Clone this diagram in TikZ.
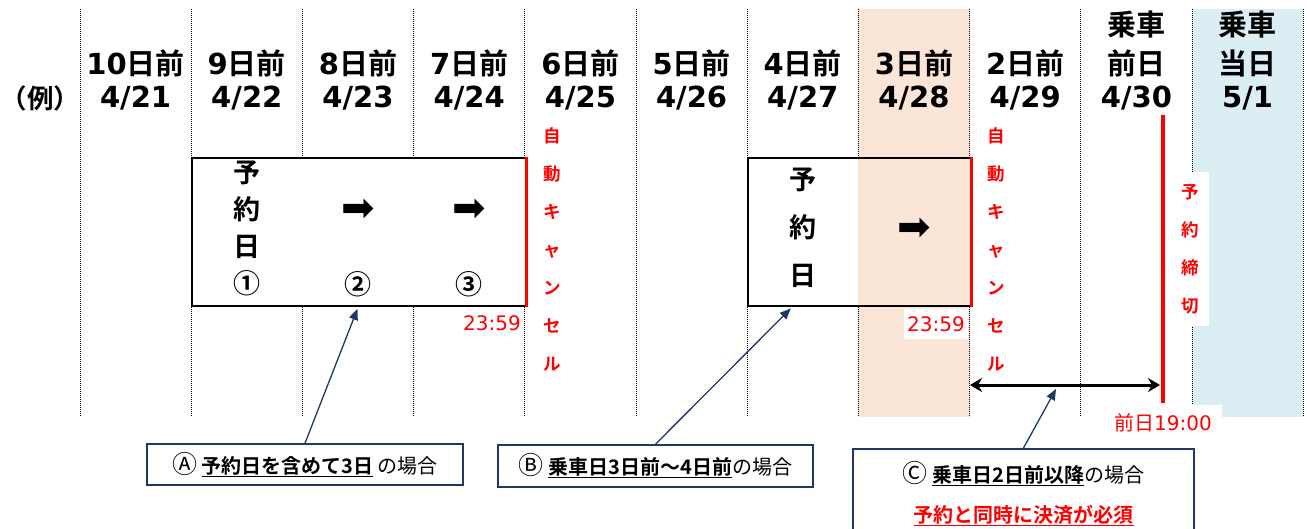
\documentclass[tikz,border=0pt]{standalone}
\usepackage{fontspec}
\setmainfont{Noto Sans CJK JP}[BoldFont={Noto Sans CJK JP Bold}]
\newfontfamily\vd{DejaVu Sans}
\usetikzlibrary{arrows.meta}
\definecolor{pe}{HTML}{FBE5D6}
\definecolor{lb}{HTML}{DAEEF3}
\definecolor{nv}{HTML}{1F3864}
\definecolor{rd}{HTML}{FF0000}
\newcommand\ulx[1]{\leavevmode\setbox0=\hbox{#1}\rlap{\rule[-3.5pt]{\wd0}{1.3pt}}\box0\relax}
\newcommand\circl[1]{{\fontsize{25}{40}\selectfont #1}}
\tikzset{
  hd/.style={inner sep=0pt, font=\bfseries\fontsize{29}{32}\selectfont},
  dotl/.style={line width=0.9pt, dash pattern=on 1pt off 1pt},
  daybox/.style={draw=black, line width=2pt, inner sep=0pt, anchor=north west},
  redv/.style={text=rd, inner sep=0pt, align=center, font=\bfseries\fontsize{17.5}{38}\selectfont},
  boxt/.style={inner sep=0pt, align=center},
  tm/.style={text=rd, inner sep=1pt, font=\vd\fontsize{20}{24}\selectfont},
  calbox/.style={draw=nv, line width=1.6pt, fill=white, inner sep=0pt, font=\fontsize{20}{40}\selectfont, align=center},
  callarr/.style={draw=nv, line width=1.3pt, -{Triangle[length=11pt,width=9pt]}, shorten >=2pt},
  dblarr/.style={draw=black, line width=3pt, {Stealth[length=12pt,width=14pt]}-{Stealth[length=12pt,width=14pt]}},
  redl/.style={draw=rd, line width=3pt}
}
\begin{document}
\begin{tikzpicture}[x=1pt,y=-1pt]
\useasboundingbox (0,0) rectangle (1307,528);
\clip (0,0) rectangle (1307,528);
% shaded columns
\fill[pe] (858.4,9) rectangle (969.6,417);
\fill[lb] (1192,9) rectangle (1303.2,417);
% dotted dividers
\foreach \i in {0,...,11} \draw[dotl] ({80+111.2*\i},9) -- ({80+111.2*\i},417);
% headers
\node[hd, font=\bfseries\fontsize{26.5}{30}\selectfont] (ex) at (40.5,98) {（例）};
\node[hd] (d0) at (135.6,63) {{\vd 10}日前};
\node[hd] (t0) at (135.6,98) {\vd 4/21};
\node[hd] (d1) at (246.8,63) {{\vd 9}日前};
\node[hd] (t1) at (246.8,98) {\vd 4/22};
\node[hd] (d2) at (358.0,63) {{\vd 8}日前};
\node[hd] (t2) at (358.0,98) {\vd 4/23};
\node[hd] (d3) at (469.2,63) {{\vd 7}日前};
\node[hd] (t3) at (469.2,98) {\vd 4/24};
\node[hd] (d4) at (580.4,63) {{\vd 6}日前};
\node[hd] (t4) at (580.4,98) {\vd 4/25};
\node[hd] (d5) at (691.6,63) {{\vd 5}日前};
\node[hd] (t5) at (691.6,98) {\vd 4/26};
\node[hd] (d6) at (802.8,63) {{\vd 4}日前};
\node[hd] (t6) at (802.8,98) {\vd 4/27};
\node[hd] (d7) at (914.0,63) {{\vd 3}日前};
\node[hd] (t7) at (914.0,98) {\vd 4/28};
\node[hd] (d8) at (1025.2,63) {{\vd 2}日前};
\node[hd] (t8) at (1025.2,98) {\vd 4/29};
\node[hd] (r9) at (1136.4,25) {乗車};
\node[hd] (d9) at (1136.4,63) {前日};
\node[hd] (t9) at (1136.4,98) {\vd 4/30};
\node[hd] (r10) at (1247.6,25) {乗車};
\node[hd] (d10) at (1247.6,63) {当日};
\node[hd] (t10) at (1247.6,98) {\vd 5/1};
% box A
\node[daybox, fill=white, minimum width=333.6pt, minimum height=148pt] (boxA) at (191.2,157) {};
\draw[redl] (boxA.north east) -- (boxA.south east);
\node[boxt, font=\bfseries\fontsize{27}{37}\selectfont] (ya) at (246.8,228) {予\\約\\日\\①};
\node[boxt, font=\vd\fontsize{40}{40}\selectfont] (ar2) at (358,210) {➡};
\node[boxt, font=\vd\fontsize{40}{40}\selectfont] (ar3) at (469.2,210) {➡};
\node[boxt, font=\bfseries\fontsize{27}{37}\selectfont] (n2) at (358,284) {②};
\node[boxt, font=\bfseries\fontsize{27}{37}\selectfont] (n3) at (469.2,284) {③};
\node[tm, anchor=east] (tmA) at (522,323) {23:59};
\node[redv] (acA) at (552,249) {自\\動\\キ\\ャ\\ン\\セ\\ル};
% box B
\fill[white] (747.2,157) rectangle (858.4,305);
\fill[pe] (858.4,157) rectangle (969.6,305);
\node[daybox, minimum width=222.4pt, minimum height=148pt] (boxB) at (747.2,157) {};
\draw[redl] (boxB.north east) -- (boxB.south east);
\node[boxt, font=\bfseries\fontsize{27}{48}\selectfont] (yb) at (802.8,228) {予\\約\\日};
\node[boxt, font=\vd\fontsize{40}{40}\selectfont] (arB) at (914,229) {➡};
\node[tm, anchor=east, fill=white, minimum height=30pt, inner xsep=3pt] (tmB) at (968,324) {23:59};
\node[redv] (acB) at (996,249) {自\\動\\キ\\ャ\\ン\\セ\\ル};
% deadline
\coordinate (dlT) at (1163,115);
\coordinate (dlB) at (1163,403);
\draw[draw=rd, line width=4.5pt] (dlT) -- (dlB);
\node[redv, fill=white, minimum width=38pt, minimum height=154pt] (shime) at (1190,249) {予\\約\\締\\切};
\node[tm, fill=white, minimum width=118pt, minimum height=36pt, inner sep=0pt] (zen) at (1163,423) {{\rmfamily 前日}19:00};
\coordinate (dL) at (970,385);
\coordinate (dR) at (1160,385);
\draw[dblarr] (dL) -- (dR);
\coordinate (dM) at (1056,389);
% callouts
\node[calbox, minimum width=316pt, minimum height=41pt] (calA) at (305,464.5) {\circl{Ⓐ} \ulx{\bfseries 予約日を含めて3日} の場合};
\node[calbox, minimum width=315pt, minimum height=42pt] (calB) at (655.5,466) {\circl{Ⓑ} \ulx{\bfseries 乗車日3日前〜4日前}の場合};
\node[calbox, minimum width=341pt, minimum height=90pt, anchor=north] (calC) at (1023.5,448) {\circl{Ⓒ} \ulx{\bfseries 乗車日2日前以降}の場合\\{\color{rd}\ulx{\bfseries 予約と同時に決済が必須}}};
\draw[callarr] (calA.north) -- ([xshift=167pt]boxA.south west);
\draw[callarr] (calB.north) -- ([xshift=45pt]boxB.south west);
\draw[callarr, shorten >=0pt] (calC.north) -- (dM);
\end{tikzpicture}
\end{document}
